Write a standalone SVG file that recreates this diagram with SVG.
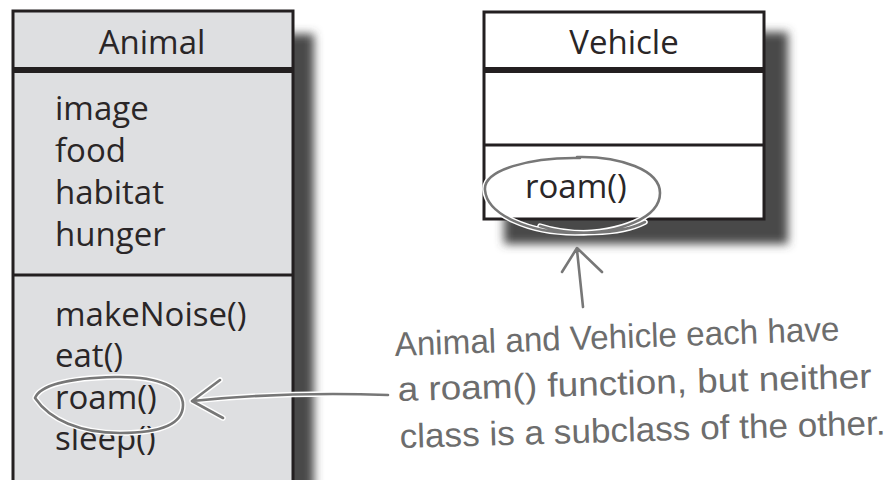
<svg xmlns="http://www.w3.org/2000/svg" width="891" height="480" viewBox="0 0 891 480">
  <style>
    .box { stroke: #231f20; stroke-width: 3; }
    .sep { stroke: #231f20; }
    .uml { font-family: "Open Sans", "Noto Sans", sans-serif; font-size: 33px; fill: #2a2627; }
    .title { text-anchor: middle; }
    .hand { font-family: "Liberation Sans", "DejaVu Sans", sans-serif; font-size: 34px; fill: #6d6d6d; }
    .halo { fill: none; stroke: #ffffff; stroke-width: 5.5; stroke-linecap: round; stroke-linejoin: round; }
    .pen { fill: none; stroke: #777777; stroke-width: 2.6; stroke-linecap: round; stroke-linejoin: round; }
  </style>
  <defs>
    <filter id="blur" x="-20%" y="-20%" width="140%" height="140%">
      <feGaussianBlur stdDeviation="5"/>
    </filter>
  </defs>
  <rect width="891" height="480" fill="#ffffff"/>

  <g id="animal">
    <rect x="28" y="34" width="286" height="480" fill="#4a4a4a" filter="url(#blur)"/>
    <rect class="box" x="13" y="11" width="280" height="480" fill="#dedfe1"/>
    <line class="sep" x1="13" y1="70" x2="293" y2="70" stroke-width="6"/>
    <line class="sep" x1="13" y1="275" x2="293" y2="275" stroke-width="3"/>
    <text class="uml title" x="152" y="54">Animal</text>
    <text class="uml" x="55" y="120">image</text>
    <text class="uml" x="55" y="162">food</text>
    <text class="uml" x="55" y="204">habitat</text>
    <text class="uml" x="55" y="246">hunger</text>
    <text class="uml" x="55" y="326">makeNoise()</text>
    <text class="uml" x="55" y="367">eat()</text>
    <text class="uml" x="55" y="409">roam()</text>
    <text class="uml" x="55" y="450">sleep()</text>
  </g>

  <g id="vehicle">
    <rect x="504" y="32" width="284" height="212" fill="#4a4a4a" filter="url(#blur)"/>
    <rect class="box" x="484" y="12" width="280" height="207" fill="#ffffff"/>
    <line class="sep" x1="484" y1="70" x2="764" y2="70" stroke-width="6"/>
    <line class="sep" x1="484" y1="145" x2="764" y2="145" stroke-width="3"/>
    <text class="uml title" x="624" y="54">Vehicle</text>
    <text class="uml" x="525" y="198">roam()</text>
  </g>

  <g id="highlights">
    <path class="halo" d="M35,398 C40,385 70,378 115,377 C160,376 183,388 183,405 C183,425 160,433 120,433 C80,433 50,420 35,398 Z"/>
    <path class="pen" d="M35,398 C40,385 70,378 115,377 C160,376 183,388 183,405 C183,425 160,433 120,433 C80,433 50,420 35,398 Z"/>
    <path class="halo" d="M577,157 C620,156 660,170 660,193 C660,218 620,233 575,233 C530,233 487,215 485,190 C483,170 530,157 580,158 M540,226 C570,236 620,235 645,222"/>
    <path class="pen" d="M577,157 C620,156 660,170 660,193 C660,218 620,233 575,233 C530,233 487,215 485,190 C483,170 530,157 580,158 M540,226 C570,236 620,235 645,222"/>
  </g>

  <g id="connectors">
    <path class="halo" d="M388,395 C330,393 260,394 192,401 M220,380 L192,401 L223,418"/>
    <path class="pen" d="M388,395 C330,393 260,394 192,401 M220,380 L192,401 L223,418"/>
    <path class="pen" d="M583,307 L577,250 M562,272 L577,248 L602,272"/>
  </g>

  <g id="note">
    <text class="hand" x="395" y="356" transform="rotate(-2 395 356)" textLength="445" lengthAdjust="spacingAndGlyphs">Animal and Vehicle each have</text>
    <text class="hand" x="398" y="401" transform="rotate(-1.6 398 401)" textLength="474" lengthAdjust="spacingAndGlyphs">a roam() function, but neither</text>
    <text class="hand" x="400" y="448" transform="rotate(-1.6 400 448)" textLength="486" lengthAdjust="spacingAndGlyphs">class is a subclass of the other.</text>
  </g>
</svg>
